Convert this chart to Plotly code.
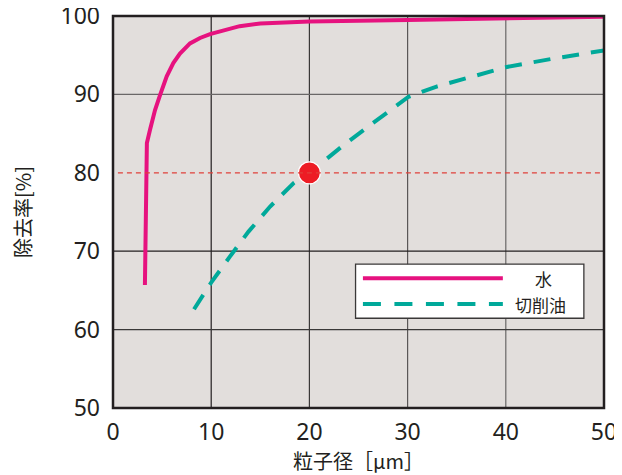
import plotly.graph_objects as go

# ---- data ----
water_x = [3.25, 3.3, 3.35, 3.45, 3.77, 4.28, 4.79, 5.47, 6.14, 6.82, 7.84, 8.86, 9.88, 11.6, 12.9, 15.0, 20.0, 30.0, 40.0, 50.0]
water_y = [65.7, 72.0, 78.0, 83.8, 85.5, 88.0, 89.9, 92.3, 94.0, 95.2, 96.5, 97.2, 97.7, 98.3, 98.7, 99.05, 99.3, 99.5, 99.7, 99.9]

oil_x = [8.25, 10.05, 11.9, 13.8, 16.0, 18.4, 20.0, 23.45, 26.2, 30.1, 32.95, 36.5, 40.1, 45.0, 50.0]
oil_y = [62.6, 66.1, 69.3, 72.5, 75.7, 78.7, 80.0, 83.5, 86.1, 89.7, 91.0, 92.3, 93.5, 94.6, 95.6]

point_x = [20]
point_y = [80]
threshold = 80
threshold_start = 0.5

x_ticks = [0, 10, 20, 30, 40, 50]
y_ticks = [50, 60, 70, 80, 90, 100]
x_grid = [10, 20, 30, 40]
x_grid_colors = ["#231f20", "#3a3838", "#5a5757", "#6a6767"]
y_grid = [60, 70, 90]
y_grid_colors = ["#3a3838", "#231f20", "#6a6767"]

legend_labels = ["水", "切削油"]
x_title = "粒子径［μm］"
y_title = "除去率[%]"

PINK = "#e6127f"
TEAL = "#00a99a"
RED = "#ed1c24"
FONT = "Noto Sans CJK JP"
TXT = "#231f20"

fig = go.Figure()

fig.add_trace(go.Scatter(x=water_x, y=water_y, mode="lines",
                         line=dict(color=PINK, width=4), name=legend_labels[0],
                         showlegend=False))
fig.add_trace(go.Scatter(x=oil_x, y=oil_y, mode="lines",
                         line=dict(color=TEAL, width=4, dash="17px,12px"),
                         name=legend_labels[1], showlegend=False))

shapes = []
for v, c in zip(x_grid, x_grid_colors):
    shapes.append(dict(type="line", xref="x", yref="paper", x0=v, x1=v, y0=0, y1=1,
                       line=dict(color=c, width=1.2), layer="below"))
for v, c in zip(y_grid, y_grid_colors):
    shapes.append(dict(type="line", xref="paper", yref="y", x0=0, x1=1, y0=v, y1=v,
                       line=dict(color=c, width=1.2), layer="below"))
shapes.append(dict(type="line", xref="x", yref="y", x0=threshold_start, x1=x_ticks[-1],
                   y0=threshold, y1=threshold,
                   line=dict(color="#e0403a", width=1.2, dash="5px,4px")))
shapes.append(dict(type="rect", xref="paper", yref="paper", x0=0, x1=1, y0=0, y1=1,
                   line=dict(color=TXT, width=2.5)))
# custom legend
shapes.append(dict(type="rect", xref="paper", yref="paper", x0=0.494, x1=0.959,
                   y0=0.229, y1=0.367, fillcolor="white",
                   line=dict(color="#3a3838", width=1.3)))
shapes.append(dict(type="line", xref="paper", yref="paper", x0=0.509, x1=0.794,
                   y0=0.331, y1=0.331, line=dict(color=PINK, width=4)))
shapes.append(dict(type="line", xref="paper", yref="paper", x0=0.509, x1=0.794,
                   y0=0.265, y1=0.265, line=dict(color=TEAL, width=4, dash="18px,13.5px")))

fig.add_trace(go.Scatter(x=point_x, y=point_y, mode="markers",
                         marker=dict(color=RED, size=22, line=dict(color="white", width=1.2)),
                         showlegend=False))

annotations = [
    dict(xref="paper", yref="paper", x=0.876, y=0.331, text=legend_labels[0],
         showarrow=False, font=dict(family=FONT, size=17, color=TXT),
         xanchor="center", yanchor="middle"),
    dict(xref="paper", yref="paper", x=0.870, y=0.265, text=legend_labels[1],
         showarrow=False, font=dict(family=FONT, size=17, color=TXT),
         xanchor="center", yanchor="middle"),
    dict(xref="paper", yref="paper", x=0.5, y=-0.135, text=x_title,
         showarrow=False, font=dict(family=FONT, size=20, color=TXT),
         xanchor="center", yanchor="middle"),
    dict(xref="paper", yref="paper", x=-0.1853, y=0.5, text=y_title, textangle=-90,
         showarrow=False, font=dict(family=FONT, size=20, color=TXT),
         xanchor="center", yanchor="middle"),
]

# page body has an 8px margin: size/margins compensate so the plot area lands at
# x 113..604, y 16..408 in the 622x475 window
fig.update_layout(
    width=614, height=467,
    margin=dict(l=105, r=18, t=8, b=67),
    paper_bgcolor="white",
    plot_bgcolor="#e2dedc",
    shapes=shapes,
    annotations=annotations,
    showlegend=False,
    font=dict(family=FONT, color=TXT),
    xaxis=dict(range=[0, 50], tickvals=x_ticks, showgrid=False, zeroline=False,
               showline=False, ticks="", automargin=False, ticklabelstandoff=8,
               ticklabeloverflow="allow",
               tickfont=dict(family="Noto Sans", size=23, color=TXT)),
    yaxis=dict(range=[50, 100], tickvals=y_ticks, showgrid=False, zeroline=False,
               showline=False, ticks="", automargin=False, ticklabelstandoff=12,
               ticklabeloverflow="allow",
               tickfont=dict(family="Noto Sans", size=23, color=TXT)),
)

fig.write_html("out.html")
